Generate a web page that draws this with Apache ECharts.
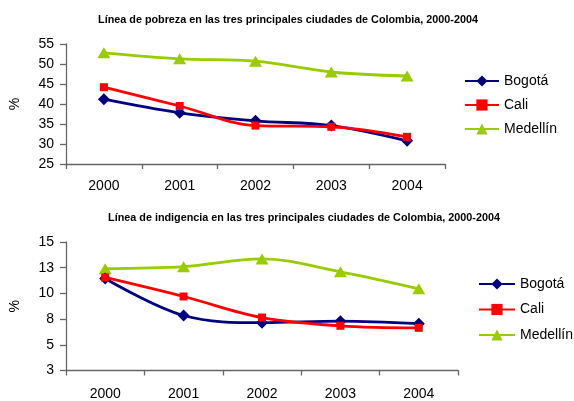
<!DOCTYPE html>
<html>
<head>
<meta charset="utf-8">
<script src="https://cdn.jsdelivr.net/npm/echarts@6/dist/echarts.min.js"></script>
<style>
html,body{margin:0;padding:0;background:#fff;}
#c{width:574px;height:401px;}
</style>
</head>
<body>
<div id="c"></div>
<script>
// ---- data ----
var years = ['2000', '2001', '2002', '2003', '2004'];
var cities = ['Bogotá', 'Cali', 'Medellín'];
var pobBogota = [41.2, 37.8, 35.8, 34.6, 30.8];
var pobCali = [44.2, 39.5, 34.6, 34.3, 31.8];
var pobMedellin = [52.8, 51.3, 50.7, 48.0, 47.0];
var indBogota = [11.45, 7.85, 7.15, 7.3, 7.05];
var indCali = [11.55, 9.7, 7.65, 6.85, 6.65];
var indMedellin = [12.4, 12.6, 13.35, 12.1, 10.45];
var titlePob = 'Línea de pobreza en las tres principales ciudades de Colombia, 2000-2004';
var titleInd = 'Línea de indigencia en las tres principales ciudades de Colombia, 2000-2004';

var FONT = '"Liberation Sans", Arial, sans-serif';
var colors = {'Bogotá': '#000080', 'Cali': '#ff0000', 'Medellín': '#99cc00'};
var symbols = {'Bogotá': ['diamond', 12], 'Cali': ['rect', 8], 'Medellín': ['triangle', [13, 11]]};

function mkSeries(name, data, idx) {
  return {
    name: name, type: 'line', data: data, xAxisIndex: idx, yAxisIndex: idx,
    smooth: 0.35, symbol: symbols[name][0], symbolSize: symbols[name][1],
    lineStyle: {color: colors[name], width: 2.8},
    itemStyle: {color: colors[name]},
    animation: false, z: name === 'Bogotá' ? 3 : (name === 'Cali' ? 4 : 2)
  };
}

function xAx(idx, margin) {
  return {
    type: 'category', data: years, gridIndex: idx, boundaryGap: true,
    axisLine: {lineStyle: {color: '#666', width: 1.3}},
    axisTick: {show: true, length: 5, lineStyle: {color: '#666', width: 1.3}},
    axisLabel: {color: '#000', fontSize: 14, fontFamily: FONT, margin: margin},
    splitLine: {show: false}
  };
}
function yAx(idx, min, max, interval, fmt) {
  return {
    type: 'value', gridIndex: idx, min: min, max: max, interval: interval,
    name: '%', nameLocation: 'middle', nameGap: 44,
    nameTextStyle: {color: '#000', fontSize: 14, fontFamily: FONT},
    axisLine: {show: true, lineStyle: {color: '#666', width: 1.3}},
    axisTick: {show: true, length: 6, lineStyle: {color: '#666', width: 1.3}},
    axisLabel: {color: '#000', fontSize: 14, fontFamily: FONT, margin: 12, formatter: fmt},
    splitLine: {show: false}
  };
}

var chart = echarts.init(document.getElementById('c'), null, {renderer: 'canvas'});
chart.setOption({
  backgroundColor: '#fff',
  animation: false,
  title: [
    {text: titlePob, left: 283, top: 10, textAlign: 'center',
     textStyle: {fontSize: 10.8, fontWeight: 'bold', fontFamily: FONT, color: '#000'}},
    {text: titleInd, left: 299, top: 208, textAlign: 'center',
     textStyle: {fontSize: 10.8, fontWeight: 'bold', fontFamily: FONT, color: '#000'}}
  ],
  legend: [
    {data: cities, orient: 'vertical', left: 459, top: 69, itemWidth: 34, itemHeight: 14, itemGap: 10,
     textStyle: {color: '#000', fontSize: 14, fontFamily: FONT}, selectedMode: false},
    {data: cities, orient: 'vertical', left: 473, top: 272, itemWidth: 36, itemHeight: 14, itemGap: 11.5,
     textStyle: {color: '#000', fontSize: 14, fontFamily: FONT}, selectedMode: false}
  ],
  grid: [
    {left: 65, top: 44, width: 380, height: 120},
    {left: 66, top: 242, width: 392, height: 132}
  ],
  xAxis: [xAx(0, 15), xAx(1, 16.5)],
  yAxis: [
    yAx(0, 25, 55, 5, function (v) { return String(v); }),
    yAx(1, 2.5, 15, 2.5, function (v) { return String(Math.round(v)); })
  ],
  series: [
    mkSeries('Bogotá', pobBogota, 0),
    mkSeries('Cali', pobCali, 0),
    mkSeries('Medellín', pobMedellin, 0),
    mkSeries('Bogotá', indBogota, 1),
    mkSeries('Cali', indCali, 1),
    mkSeries('Medellín', indMedellin, 1)
  ]
});
</script>
</body>
</html>
